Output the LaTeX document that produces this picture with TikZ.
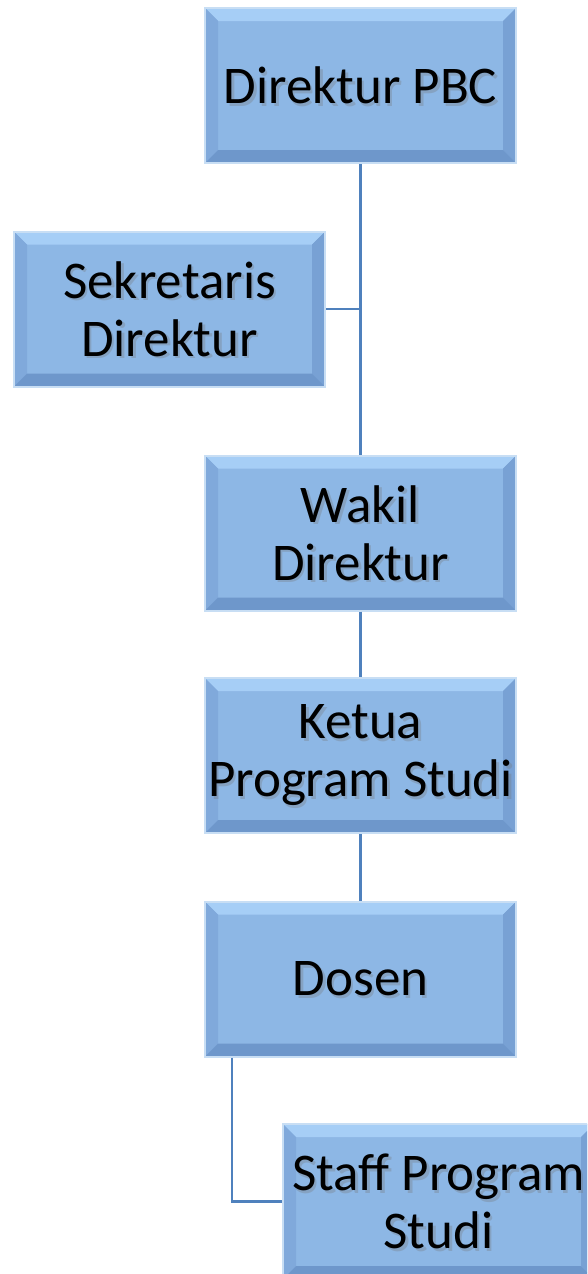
\documentclass[tikz,border=0pt]{standalone}
\usepackage{fontspec}
\setmainfont{Carlito}
\usetikzlibrary{calc}
\definecolor{boxfill}{RGB}{141,183,229}
\definecolor{bevtop}{RGB}{166,206,246}
\definecolor{bevleft}{RGB}{128,169,219}
\definecolor{bevright}{RGB}{120,161,212}
\definecolor{bevbot}{RGB}{110,151,203}
\definecolor{boxrim}{RGB}{200,222,244}
\definecolor{linkblue}{RGB}{79,129,189}
\newcommand\boxfont{\fontsize{53}{58}\selectfont}
\newcommand\bw{13}
\tikzset{
  orgbox/.style={rectangle, fill=boxfill, draw=boxrim, line width=2pt,
    minimum width=311pt, minimum height=155pt, inner sep=0pt,
    align=center, font=\boxfont, text=black},
  link/.style={draw=linkblue, line width=2.5pt}
}
\newcommand\orgnode[3]{%
  \node[orgbox, path picture={
    \coordinate (nw) at (path picture bounding box.north west);
    \coordinate (ne) at (path picture bounding box.north east);
    \coordinate (sw) at (path picture bounding box.south west);
    \coordinate (se) at (path picture bounding box.south east);
    \fill[bevtop] (nw) -- (ne) -- ([shift={(-\bw,\bw)}]ne) -- ([shift={(\bw,\bw)}]nw) -- cycle;
    \fill[bevleft] (nw) -- (sw) -- ([shift={(\bw,-\bw)}]sw) -- ([shift={(\bw,\bw)}]nw) -- cycle;
    \fill[bevright] (ne) -- (se) -- ([shift={(-\bw,-\bw)}]se) -- ([shift={(-\bw,\bw)}]ne) -- cycle;
    \fill[bevbot] (sw) -- (se) -- ([shift={(-\bw,-\bw)}]se) -- ([shift={(\bw,-\bw)}]sw) -- cycle;
    \node[align=center, font=\boxfont, text=black!55, opacity=0.3]
      at ([shift={(2.5,2.5)}]path picture bounding box.center) {#3};
  }] (#1) at (#2) {#3};}
\begin{document}
\begin{tikzpicture}[x=1pt, y=-1pt]
\useasboundingbox (0,0) rectangle (587,1274);
\begin{scope}
\clip (0,0) rectangle (587,1274);
\orgnode{dir}{360.5,85.5}{Direktur PBC}
\orgnode{sek}{169.5,309}{Sekretaris\\Direktur}
\orgnode{wak}{360.5,533}{Wakil\\Direktur}
\orgnode{ket}{360.5,755.5}{Ketua\\Program Studi}
\orgnode{dos}{360.5,979}{Dosen}
\orgnode{stf}{438.5,1201.5}{Staff Program\\Studi}
\end{scope}
\draw[link] (dir.south) -- (wak.north);
\draw[link] (sek.east) -- (sek.east -| dir.south);
\draw[link] (wak.south) -- (ket.north);
\draw[link] (ket.south) -- (dos.north);
\coordinate (dl) at ($(dos.south west)+(28,0)$);
\draw[link] (dl) |- (stf.west);
\end{tikzpicture}
\end{document}
